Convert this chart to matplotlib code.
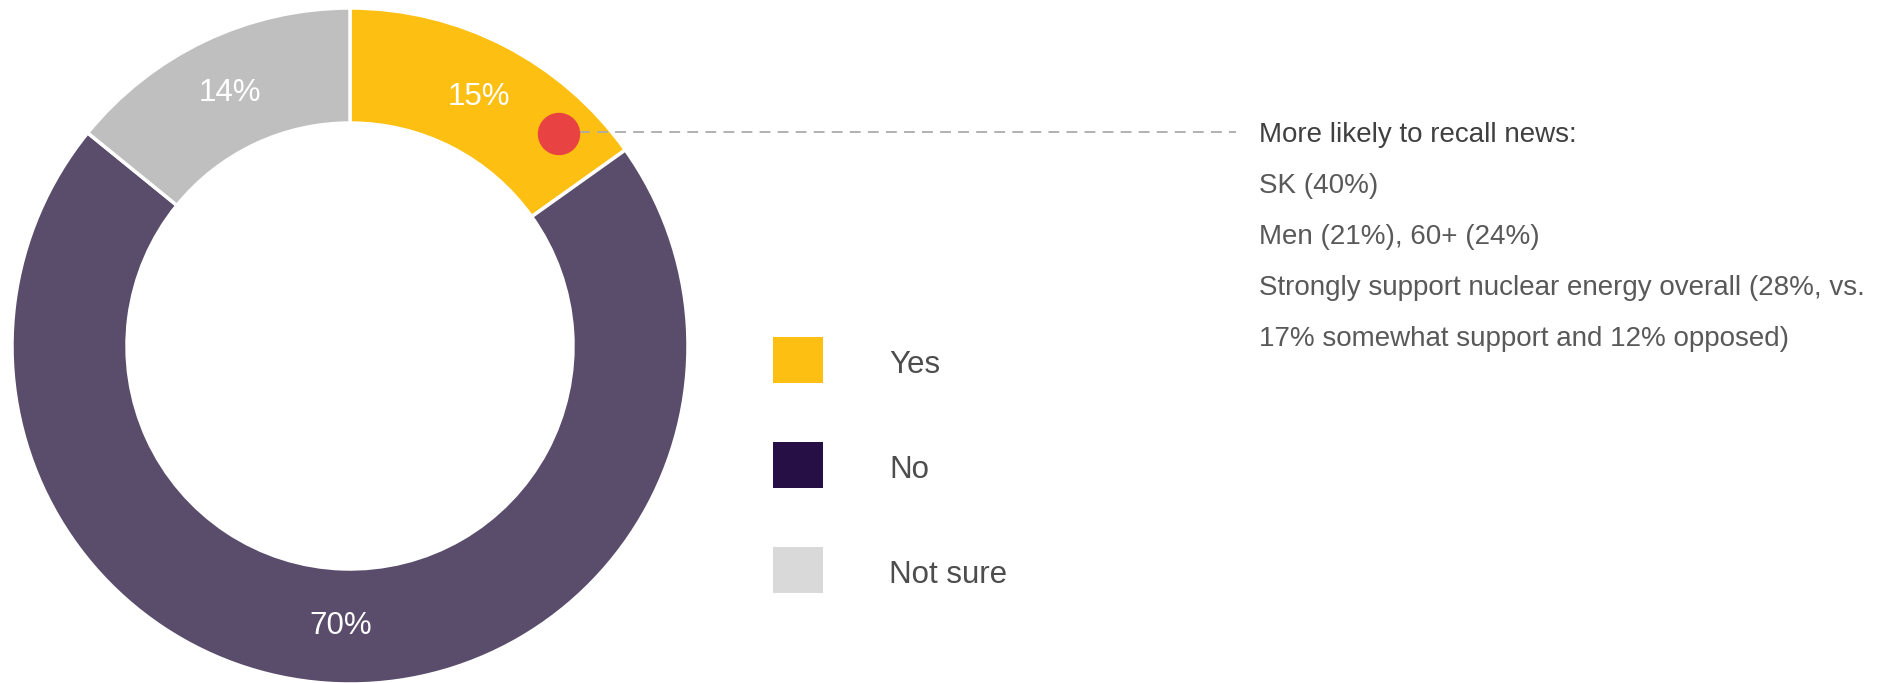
import numpy as np
import matplotlib
matplotlib.use('Agg')
import matplotlib.pyplot as plt

# --- data ---
categories = ['Yes', 'No', 'Not sure']
shares = [15, 70, 14]
ring_colors = ['#FCBF12', '#5A4C6B', '#BFBFBF']
legend_colors = ['#FCBF12', '#260F45', '#D9D9D9']

note_title = 'More likely to recall news:'
note_lines = [
    'SK (40%)',
    'Men (21%), 60+ (24%)',
    'Strongly support nuclear energy overall (28%, vs.',
    '17% somewhat support and 12% opposed)',
]

plt.rcParams['font.family'] = ['Liberation Sans', 'DejaVu Sans']

W, H = 1903, 683
fig = plt.figure(figsize=(W / 100, H / 100), dpi=100)
ax = fig.add_axes([0, 0, 1, 1])

# donut drawn in pixel coordinates; y axis runs downward, so start at -90
# and go "counterclockwise" in data space to get a clockwise ring from the top
cx, cy, r_out = 350, 346, 338
r_in = 223

wedges, _ = ax.pie(shares, colors=ring_colors, startangle=-90, counterclock=True,
                   center=(cx, cy), radius=r_out,
                   wedgeprops=dict(width=r_out - r_in, edgecolor='white', linewidth=2.5))
ax.set_xlim(0, W)
ax.set_ylim(H, 0)
ax.set_aspect('equal')
ax.axis('off')

# value labels in the middle of each ring segment
r_lab = (r_out + r_in) / 2
for w, v in zip(wedges, shares):
    th = np.deg2rad((w.theta1 + w.theta2) / 2)
    ax.text(cx + r_lab * np.cos(th), cy + r_lab * np.sin(th), f'{v}%',
            color='white', fontsize=22.5, ha='center', va='center')

# callout from the "Yes" segment
dot_x, dot_y = 559, 134
ax.plot([dot_x + 20, 1236], [dot_y - 2, dot_y - 2], color='#ABABAB', lw=1.3,
        ls=(0, (6, 4)), zorder=3)
ax.add_patch(plt.Circle((dot_x, dot_y), 20.5, color='#E84242', zorder=4))

tx = 1259
ax.text(tx, 135, note_title, color='#404040', fontsize=20, va='center', ha='left')
for i, line in enumerate(note_lines):
    ax.text(tx, 186 + i * 51, line, color='#595959', fontsize=20, va='center', ha='left')

# legend
for i, (lab, col) in enumerate(zip(categories, legend_colors)):
    y0 = 337 + i * 105
    ax.add_patch(plt.Rectangle((773, y0), 50, 46, color=col, lw=0))
    ax.text(889, y0 + 28, lab, color='#4D4D4D', fontsize=22.5, va='center', ha='left')

fig.savefig('out.png', dpi=100)
